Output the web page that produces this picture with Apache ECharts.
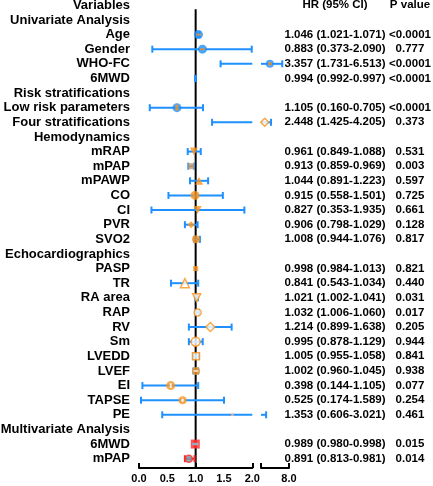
<!DOCTYPE html>
<html><head><meta charset="utf-8">
<script src="https://cdn.jsdelivr.net/npm/echarts@6/dist/echarts.min.js"></script>
<style>html,body{margin:0;padding:0;background:#fff}#c{width:433px;height:486px}</style>
</head><body><div id="c"></div>
<script>
var categories = ['Variables','Univariate Analysis','Age','Gender','WHO-FC','6MWD','Risk stratifications','Low risk parameters','Four stratifications','Hemodynamics','mRAP','mPAP','mPAWP','CO','CI','PVR','SVO2','Echocardiographics','PASP','TR','RA area','RAP','RV','Sm','LVEDD','LVEF','EI','TAPSE','PE','Multivariate Analysis','6MWD','mPAP'];
var hrText = ['HR (95% CI)','','1.046 (1.021-1.071)','0.883 (0.373-2.090)','3.357 (1.731-6.513)','0.994 (0.992-0.997)','','1.105 (0.160-0.705)','2.448 (1.425-4.205)','','0.961 (0.849-1.088)','0.913 (0.859-0.969)','1.044 (0.891-1.223)','0.915 (0.558-1.501)','0.827 (0.353-1.935)','0.906 (0.798-1.029)','1.008 (0.944-1.076)','','0.998 (0.984-1.013)','0.841 (0.543-1.034)','1.021 (1.002-1.041)','1.032 (1.006-1.060)','1.214 (0.899-1.638)','0.995 (0.878-1.129)','1.005 (0.955-1.058)','1.002 (0.960-1.045)','0.398 (0.144-1.105)','0.525 (0.174-1.589)','1.353 (0.606-3.021)','','0.989 (0.980-0.998)','0.891 (0.813-0.981)'];
var pText = ['P value','','<0.0001','0.777','<0.0001','<0.0001','','<0.0001','0.373','','0.531','0.003','0.597','0.725','0.661','0.128','0.817','','0.821','0.440','0.031','0.017','0.205','0.944','0.841','0.938','0.077','0.254','0.461','','0.015','0.014'];
// plotted values
var hrPoint = [null,null,1.05,1.12,3.9,null,null,0.67,2.8,null,0.97,0.92,1.06,0.99,1.035,0.92,1.006,null,1.0,0.81,1.018,1.035,1.26,1.0,1.006,1.006,0.56,0.77,1.65,null,0.994,0.88];
var ciLower = [null,null,1.02,0.235,1.44,0.99,null,0.19,1.29,null,0.86,0.87,0.90,0.52,0.22,0.81,0.975,null,null,0.565,1.0,1.006,0.88,0.88,0.955,0.96,0.06,0.035,0.41,null,0.98,0.81];
var ciUpper = [null,null,1.07,1.99,6.55,1.0,null,1.13,4.15,null,1.09,0.97,1.22,1.48,1.86,1.035,1.075,null,null,1.045,1.04,1.06,1.635,1.125,1.058,1.045,1.045,1.50,3.1,null,0.998,0.98];
var seg1Ticks = [0,1,2];
var seg1Labels = [0,0.5,1,1.5,2];
var seg2Ticks = [2,8];
var seg2Labels = [8];
var refValue = 1;

var BLUE='#1E90FF', ORANGE='#F7941D', RED='#FF2A2A';
var FONT='"Liberation Sans", Arial, Helvetica, sans-serif';
var multiStart = categories.indexOf('Multivariate Analysis');
var SEG1=[0,2], SEG2=[2,8];

var S = {
 2:{s:'circle',z:9,c:BLUE,inn:{s:'rect',z:[5,2],c:ORANGE}},
 3:{s:'circle',z:9,c:BLUE,inn:{s:'rect',z:[5,2],c:ORANGE}},
 4:{s:'circle',z:8,c:BLUE,inn:{s:'circle',z:4,c:ORANGE}},
 7:{s:'circle',z:9,c:BLUE,inn:{s:'rect',z:[3,6],c:ORANGE}},
 8:{s:'diamond',z:8,c:'#fff',b:ORANGE},
 10:{s:'triangle',r:180,z:8,c:ORANGE},
 11:{s:'rect',z:6,c:'#C99766'},
 12:{s:'triangle',z:8,c:ORANGE},
 13:{s:'circle',z:9,c:ORANGE},
 14:{s:'triangle',r:180,z:8,c:ORANGE},
 15:{s:'diamond',z:7,c:ORANGE},
 16:{s:'circle',z:8,c:ORANGE},
 18:{s:'rect',z:5,c:ORANGE},
 19:{s:'triangle',z:9,c:'#fff',b:ORANGE},
 20:{s:'triangle',r:180,z:8,c:'#fff',b:ORANGE},
 21:{s:'circle',z:7,c:'#fff',b:ORANGE},
 22:{s:'diamond',z:9,c:'#fff',b:ORANGE},
 23:{s:'circle',z:9,c:'#fff',b:ORANGE},
 24:{s:'rect',z:7,c:'#fff',b:ORANGE},
 25:{s:'circle',z:8,c:ORANGE,inn:{s:'rect',z:[5,1.5],c:'#fff'}},
 26:{s:'circle',z:9,c:ORANGE,inn:{s:'rect',z:[2,5],c:'#fff'}},
 27:{s:'circle',z:8,c:ORANGE,inn:{s:'diamond',z:4,c:'#fff'}},
 28:{s:'circle',z:3,c:'#F5B89A'},
 30:{s:'rect',z:9,c:RED,inn:{s:'rect',z:[6,2.5],c:'#7EC8E3'}},
 31:{s:'circle',z:7,c:'#6A9FA8',b:RED}
};

function markerItems(seg, inner){
  var out=[];
  hrPoint.forEach(function(v,i){
    if(v==null) return;
    if(v<seg[0]||v>seg[1]) return;
    var st=S[i]; if(!st) return;
    if(inner){
      if(!st.inn) return;
      out.push({value:[v,i],symbol:st.inn.s,symbolSize:st.inn.z,itemStyle:{color:st.inn.c}});
    } else {
      out.push({value:[v,i],symbol:st.s,symbolSize:st.z,symbolRotate:st.r||0,
        itemStyle:{color:st.c,borderColor:st.b||st.c,borderWidth:st.b?1.5:0}});
    }
  });
  return out;
}
function ciItems(){
  var out=[];
  ciLower.forEach(function(lo,i){
    if(lo==null||ciUpper[i]==null) return;
    out.push([lo,ciUpper[i],i,i>multiStart?1:0]);
  });
  return out;
}
function errRender(seg){
  return function(params, api){
    var lo=api.value(0), hi=api.value(1), idx=api.value(2), red=api.value(3)===1;
    if(hi<seg[0]||lo>seg[1]) return;
    var a=Math.max(lo,seg[0]), b=Math.min(hi,seg[1]);
    var p1=api.coord([a,idx]), p2=api.coord([b,idx]);
    var col=red?RED:BLUE, h=3.5;
    var ch=[{type:'line',shape:{x1:p1[0],y1:p1[1],x2:p2[0],y2:p2[1]},style:{stroke:col,lineWidth:2}}];
    if(lo>=seg[0]) ch.push({type:'line',shape:{x1:p1[0],y1:p1[1]-h,x2:p1[0],y2:p1[1]+h},style:{stroke:col,lineWidth:2}});
    if(hi<=seg[1]) ch.push({type:'line',shape:{x1:p2[0],y1:p2[1]-h,x2:p2[0],y2:p2[1]+h},style:{stroke:col,lineWidth:2}});
    return {type:'group',children:ch};
  };
}
function xAxisCfg(grid, seg, ticks, labels){
  return {type:'value',gridIndex:grid,min:seg[0],max:seg[1],offset:2,
    axisLine:{show:true,onZero:false,lineStyle:{color:'#000',width:2}},
    axisTick:{show:true,inside:true,length:5,customValues:ticks,lineStyle:{color:'#000',width:2}},
    axisLabel:{customValues:labels,margin:5,color:'#000',fontSize:11,fontWeight:'bold',fontFamily:FONT,
      formatter:function(v){return Number(v).toFixed(1);}},
    splitLine:{show:false}};
}
var rowData = categories.map(function(c,i){return [0,i];});
function textRender(kind){
  return function(params, api){
    var idx=api.value(1);
    var cs=params.coordSys;
    var y=api.coord([0,idx])[1];
    var t, x, align, size=11.5;
    if(kind==='label'){ t=categories[idx]; x=cs.x-9; align='right'; size=13; }
    else if(kind==='hr'){ t=hrText[idx]; x=cs.x+cs.width+46; align='center'; }
    else { t=pText[idx]; x=cs.x+cs.width+121; align='center'; }
    if(!t) return;
    return {type:'text',style:{text:t,x:x,y:y,align:align,verticalAlign:'middle',fill:'#000',
      font:'bold '+size+'px '+FONT}};
  };
}
var chart=echarts.init(document.getElementById('c'),null,{renderer:'canvas'});
chart.setOption({
  animation:false,
  backgroundColor:'#fff',
  grid:[
    {left:139,right:180.7,top:-2,height:468,containLabel:false,outerBoundsMode:'none'},
    {left:261,right:144,top:-2,height:468,containLabel:false,outerBoundsMode:'none'}
  ],
  xAxis:[xAxisCfg(0,SEG1,seg1Ticks,seg1Labels), xAxisCfg(1,SEG2,seg2Ticks,seg2Labels)],
  yAxis:[
    {type:'category',gridIndex:0,data:categories,inverse:true,
      axisLine:{show:false},axisTick:{show:false},splitLine:{show:false},axisLabel:{show:false}},
    {type:'category',gridIndex:1,data:categories,inverse:true,
      axisLine:{show:false},axisTick:{show:false},splitLine:{show:false},axisLabel:{show:false}}
  ],
  series:[
    {type:'custom',xAxisIndex:0,yAxisIndex:0,z:1,data:[[refValue,0]],encode:{x:0,y:1},
      renderItem:function(params,api){
        var p=api.coord([api.value(0),0]); var band=api.size([0,1])[1]; var cs=params.coordSys;
        return {type:'line',shape:{x1:p[0],y1:p[1]+band*0.27,x2:p[0],y2:cs.y+cs.height+2},style:{stroke:'#000',lineWidth:2}};
      }},
    {type:'custom',xAxisIndex:0,yAxisIndex:0,z:5,clip:false,data:rowData,encode:{x:0,y:1},renderItem:textRender('label')},
    {type:'custom',xAxisIndex:1,yAxisIndex:1,z:5,clip:false,data:rowData,encode:{x:0,y:1},renderItem:textRender('hr')},
    {type:'custom',xAxisIndex:1,yAxisIndex:1,z:5,clip:false,data:rowData,encode:{x:0,y:1},renderItem:textRender('p')},
    {type:'custom',xAxisIndex:0,yAxisIndex:0,z:2,data:ciItems(),encode:{x:[0,1],y:2},renderItem:errRender(SEG1)},
    {type:'custom',xAxisIndex:1,yAxisIndex:1,z:2,data:ciItems(),encode:{x:[0,1],y:2},renderItem:errRender(SEG2)},
    {type:'scatter',xAxisIndex:0,yAxisIndex:0,z:3,data:markerItems(SEG1,false)},
    {type:'scatter',xAxisIndex:1,yAxisIndex:1,z:3,data:markerItems([2.0001,8],false)},
    {type:'scatter',xAxisIndex:0,yAxisIndex:0,z:4,data:markerItems(SEG1,true)},
    {type:'scatter',xAxisIndex:1,yAxisIndex:1,z:4,data:markerItems([2.0001,8],true)}
  ]
});
</script></body></html>
